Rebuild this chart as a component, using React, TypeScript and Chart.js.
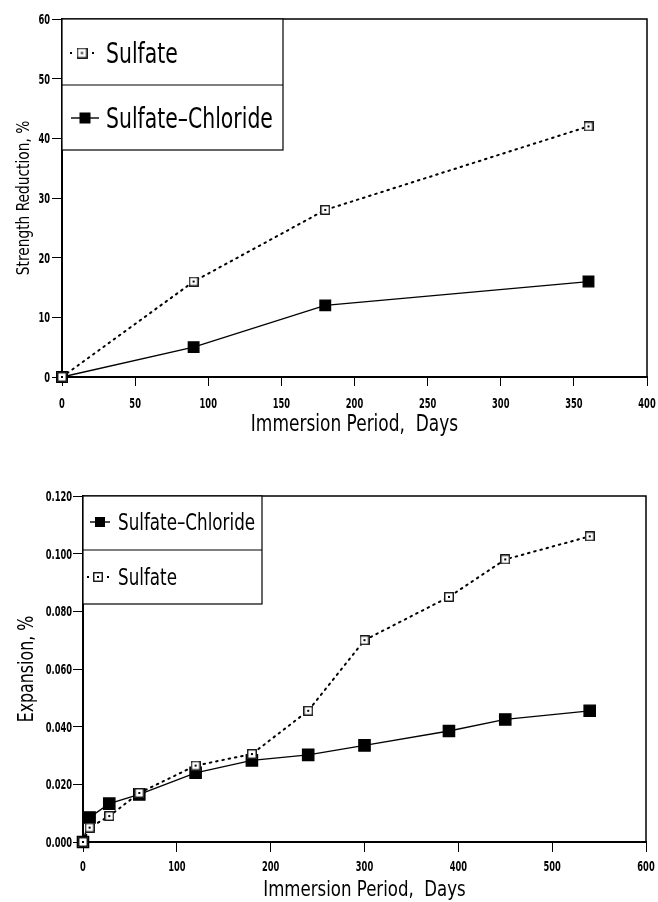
import React, { useEffect, useRef } from "react";
import { Chart, registerables } from "chart.js";
Chart.register(...registerables);

const FONT = "'Liberation Sans Narrow', 'DejaVu Sans Condensed', 'Arial Narrow', sans-serif";

// ---- Top chart: strength reduction ----
const strengthDays = [0, 90, 180, 360];
const strengthSulfate = [0, 16, 28, 42];
const strengthSulfateChloride = [0, 5, 12, 16];

// ---- Bottom chart: expansion ----
const expansionDays = [0, 7, 28, 60, 120, 180, 240, 300, 390, 450, 540];
const expansionSulfateChloride = [0, 0.0085, 0.0133, 0.0165, 0.024, 0.0283, 0.0302, 0.0335, 0.0385, 0.0425, 0.0455];
const expansionSulfate = [0, 0.005, 0.009, 0.017, 0.0265, 0.0305, 0.0455, 0.07, 0.085, 0.098, 0.106];

const xTitle = "Immersion Period,  Days";
const strengthYTitle = "Strength Reduction, %";
const expansionYTitle = "Expansion, %";
const labelSulfate = "Sulfate";
const labelSulfateChloride = "Sulfate\u2013Chloride";

function makeOpenSquare(size: number) {
  const c = document.createElement("canvas");
  c.width = size;
  c.height = size;
  const g = c.getContext("2d")!;
  g.fillStyle = "#fff";
  g.fillRect(0, 0, size, size);
  g.strokeStyle = "#000";
  g.lineWidth = 1.3;
  g.strokeRect(0.75, 0.75, size - 1.5, size - 1.5);
  g.fillStyle = "#000";
  g.fillRect(size / 2 - 1, size / 2 - 1, 2, 2);
  return c;
}

function pts(xs: number[], ys: number[]) {
  return xs.map((x, i) => ({ x, y: ys[i] }));
}

// draw horizontally condensed text; (x, cy) = anchor point, cy = vertical centre of capitals
function condText(ctx: any, text: string, x: number, cy: number, size: number, sx: number, align: string, weight = "normal", rotate = 0) {
  ctx.save();
  ctx.translate(x, cy);
  if (rotate) ctx.rotate(rotate);
  ctx.scale(sx, 1);
  ctx.font = `${weight} ${size}px ${FONT}`;
  ctx.fillStyle = "#000";
  ctx.textAlign = align;
  ctx.textBaseline = "alphabetic";
  ctx.fillText(text, 0, size * 0.365);
  ctx.restore();
}

const framePlugin = {
  id: "frameAndLegend",
  afterDraw(chart: any, _args: any, opts: any) {
    const { ctx, chartArea } = chart;
    const { left, top, right, bottom } = chartArea;
    ctx.save();
    ctx.strokeStyle = "#000";
    ctx.lineWidth = 1.5;
    ctx.beginPath();
    ctx.moveTo(left, top);
    ctx.lineTo(right, top);
    ctx.lineTo(right, bottom);
    ctx.stroke();

    // tick labels
    const xs = chart.scales.x;
    const ys = chart.scales.y;
    const tf = opts.tickFont;
    xs.ticks.forEach((t: any) => {
      condText(ctx, opts.xFmt(t.value), xs.getPixelForValue(t.value), bottom + opts.xLabelDy, tf.size, tf.sx, "center", "bold");
    });
    ys.ticks.forEach((t: any) => {
      condText(ctx, opts.yFmt(t.value), left - opts.yLabelDx, ys.getPixelForValue(t.value), tf.size, tf.sx, "right", "bold");
    });

    // axis titles
    const xt = opts.xTitle;
    condText(ctx, xt.text, (left + right) / 2, bottom + xt.dy, xt.size, xt.sx, "center");
    const yt = opts.yTitle;
    condText(ctx, yt.text, left - yt.dx, (top + bottom) / 2 + yt.dy, yt.size, yt.sx, "center", "normal", -Math.PI / 2);

    const lg = opts.legend;
    if (lg) {
      const x0 = left, y0 = top, x1 = left + lg.width;
      ctx.fillStyle = "#fff";
      ctx.fillRect(x0, y0, lg.width, lg.height);
      ctx.strokeStyle = "#000";
      ctx.lineWidth = 1.2;
      ctx.strokeRect(x0, y0, lg.width, lg.height);
      ctx.beginPath();
      ctx.moveTo(x0, top + lg.divider);
      ctx.lineTo(x1, top + lg.divider);
      ctx.stroke();
      lg.items.forEach((it: any) => {
        const cy = top + it.cy;
        const mx = left + it.markerX;
        if (it.kind === "filled") {
          ctx.lineWidth = 1.4;
          ctx.beginPath();
          ctx.moveTo(mx - it.lineHalf, cy);
          ctx.lineTo(mx + it.lineHalf, cy);
          ctx.stroke();
          ctx.fillStyle = "#000";
          ctx.fillRect(mx - it.size / 2, cy - it.size / 2, it.size, it.size);
        } else {
          ctx.fillStyle = "#000";
          ctx.fillRect(mx - it.lineHalf - 1, cy - 1, 2, 2);
          ctx.fillRect(mx + it.lineHalf - 1, cy - 1, 2, 2);
          const img = makeOpenSquare(it.size);
          ctx.drawImage(img, mx - it.size / 2, cy - it.size / 2);
        }
        condText(ctx, it.label, left + it.textX, cy, it.fontSize, it.sx, "left");
      });
    }
    ctx.restore();
  },
};

function baseScale(min: number, max: number, step: number, tickLen: number) {
  return {
    type: "linear",
    min,
    max,
    ticks: {
      stepSize: step,
      autoSkip: false,
      maxRotation: 0,
      color: "rgba(0,0,0,0)",
      padding: 4,
      font: { family: FONT, size: 13, weight: "bold" },
    },
    grid: { display: true, drawOnChartArea: false, drawTicks: true, tickLength: tickLen, color: "#000", lineWidth: 1 },
    border: { display: true, color: "#000", width: 2 },
  };
}

function ChartCanvas({ config, width, height, top }: any) {
  const ref = useRef<HTMLCanvasElement>(null);
  useEffect(() => {
    const chart = new Chart(ref.current!, config);
    return () => chart.destroy();
  }, []);
  return (
    <canvas
      ref={ref}
      width={width}
      height={height}
      style={{ position: "absolute", left: 0, top, width, height }}
    />
  );
}

export default function App() {
  const openSq = makeOpenSquare(10);

  const topConfig: any = {
    type: "line",
    data: {
      datasets: [
        {
          label: labelSulfate,
          data: pts(strengthDays, strengthSulfate),
          borderColor: "#000",
          borderWidth: 2,
          borderDash: [1.6, 4.8],
          borderCapStyle: "round",
          pointStyle: openSq,
          pointRadius: 5,
          clip: false,
        },
        {
          label: labelSulfateChloride,
          data: pts(strengthDays, strengthSulfateChloride),
          borderColor: "#000",
          borderWidth: 1.3,
          pointStyle: "rect",
          pointRadius: 7.5,
          pointBackgroundColor: "#000",
          pointBorderColor: "#000",
          clip: false,
        },
      ],
    },
    options: {
      responsive: false,
      animation: false,
      devicePixelRatio: 1,
      layout: { padding: { top: 19, right: 11, left: 0, bottom: 0 } },
      plugins: {
        legend: { display: false },
        tooltip: { enabled: false },
        frameAndLegend: {
          tickFont: { size: 14, sx: 0.66 },
          xFmt: (v: number) => String(v),
          yFmt: (v: number) => String(v),
          xLabelDy: 26,
          yLabelDx: 12,
          xTitle: { text: xTitle, size: 22.5, sx: 0.84, dy: 46 },
          yTitle: { text: strengthYTitle, size: 18, sx: 0.85, dx: 40, dy: 0 },
          legend: {
            width: 221,
            height: 131,
            divider: 66,
            items: [
              { label: labelSulfate, kind: "open", cy: 34, markerX: 20, lineHalf: 11, size: 11, textX: 44, fontSize: 28, sx: 0.81 },
              { label: labelSulfateChloride, kind: "filled", cy: 99, markerX: 23, lineHalf: 14, size: 11, textX: 44, fontSize: 28, sx: 0.81 },
            ],
          },
        },
      },
      scales: {
        x: {
          ...baseScale(0, 400, 50, 9),
          afterFit: (s: any) => { s.height = 445 - 377; s.paddingLeft = 0; s.paddingRight = 0; },
        },
        y: {
          ...baseScale(0, 60, 10, 10),
          afterFit: (s: any) => { s.width = 62; s.paddingTop = 0; s.paddingBottom = 0; },
        },
      },
    },
    plugins: [framePlugin],
  };

  const bottomTop = 445;
  const bottomConfig: any = {
    type: "line",
    data: {
      datasets: [
        {
          label: labelSulfate,
          data: pts(expansionDays, expansionSulfate),
          borderColor: "#000",
          borderWidth: 2,
          borderDash: [1.6, 4.8],
          borderCapStyle: "round",
          pointStyle: openSq,
          pointRadius: 5,
          clip: false,
        },
        {
          label: labelSulfateChloride,
          data: pts(expansionDays, expansionSulfateChloride),
          borderColor: "#000",
          borderWidth: 1.3,
          pointStyle: "rect",
          pointRadius: 8,
          pointBackgroundColor: "#000",
          pointBorderColor: "#000",
          clip: false,
        },
      ],
    },
    options: {
      responsive: false,
      animation: false,
      devicePixelRatio: 1,
      layout: { padding: { top: 496 - bottomTop, right: 12, left: 0, bottom: 0 } },
      plugins: {
        legend: { display: false },
        tooltip: { enabled: false },
        frameAndLegend: {
          tickFont: { size: 14, sx: 0.66 },
          xFmt: (v: number) => String(v),
          yFmt: (v: number) => v.toFixed(3),
          xLabelDy: 24,
          yLabelDx: 11,
          xTitle: { text: xTitle, size: 20.5, sx: 0.9, dy: 47 },
          yTitle: { text: expansionYTitle, size: 22, sx: 0.8, dx: 58, dy: 0 },
          legend: {
            width: 179,
            height: 108,
            divider: 54,
            items: [
              { label: labelSulfateChloride, kind: "filled", cy: 26, markerX: 17, lineHalf: 10, size: 10, textX: 35, fontSize: 23, sx: 0.81 },
              { label: labelSulfate, kind: "open", cy: 81, markerX: 15, lineHalf: 10, size: 10, textX: 35, fontSize: 23, sx: 0.81 },
            ],
          },
        },
      },
      scales: {
        x: {
          ...baseScale(0, 600, 100, 10),
          afterFit: (s: any) => { s.height = 902 - 842; s.paddingLeft = 0; s.paddingRight = 0; },
        },
        y: {
          ...baseScale(0, 0.12, 0.02, 10),
          afterFit: (s: any) => { s.width = 83; s.paddingTop = 0; s.paddingBottom = 0; },
        },
      },
    },
    plugins: [framePlugin],
  };

  return (
    <div style={{ position: "absolute", left: 0, top: 0, width: 658, height: 902, background: "#fff" }}>
      <ChartCanvas config={topConfig} width={658} height={445} top={0} />
      <ChartCanvas config={bottomConfig} width={658} height={902 - bottomTop} top={bottomTop} />
    </div>
  );
}
